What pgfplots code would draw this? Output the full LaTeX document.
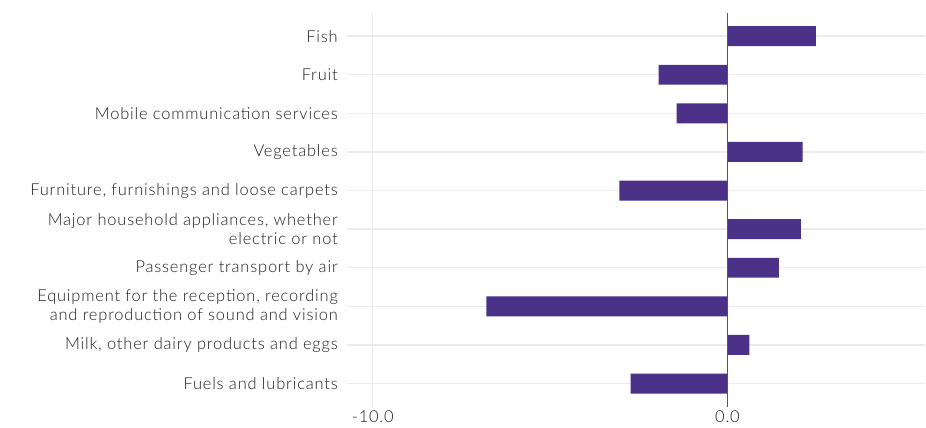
\documentclass[border=0pt]{standalone}
\usepackage{fontspec}
\setmainfont{Lato}[UprightFont={* Light}, LetterSpace=5]
\usepackage{pgfplots}
\pgfplotsset{compat=1.18}
\definecolor{barc}{RGB}{75,49,135}
\definecolor{gridc}{RGB}{235,235,235}
\definecolor{txt}{RGB}{30,30,30}
\begin{document}
\begin{tikzpicture}
\begin{axis}[
  scale only axis,
  width=578.5bp, height=394bp,
  xmin=-10.72, xmax=5.58,
  ymin=-0.6, ymax=9.6,
  xbar, bar width=20bp, bar shift=0pt,
  axis line style={draw=none},
  major tick length=0pt,
  xtick={-10,0}, xticklabels={-10.0,0.0},
  ytick={0,...,9},
  yticklabels={Fuels and lubricants,{Milk, other dairy products and eggs},{Equipment for the reception, recording\\and reproduction of sound and vision},Passenger transport by air,{Major household appliances, whether\\electric or not},{Furniture, furnishings and loose carpets},Vegetables,Mobile communication services,Fruit,Fish},
  yticklabel style={align=right, font=\fontsize{16.5}{19}\selectfont, text=txt, xshift=-6bp},
  xticklabel style={font=\fontsize{16.5}{19}\selectfont, text=txt, yshift=-1bp},
  xmajorgrids, ymajorgrids,
  major grid style={draw=gridc, line width=1.3bp},
  clip=false,
]
\addplot[fill=barc, draw=none] coordinates {
(-2.73,0) (0.62,1) (-6.80,2) (1.45,3) (2.07,4) (-3.05,5) (2.12,6) (-1.43,7) (-1.94,8) (2.49,9)};
\draw[color={rgb,255:red,85;green,85;blue,85}, line width=1.6bp] (axis cs:0,-0.6) -- (axis cs:0,9.6);
\end{axis}
\path (current axis.south west) ++(-347.5bp,-21bp) coordinate (a);
\path (current axis.north east) ++(0,13bp) coordinate (b);
\path (a) rectangle (b);
\end{tikzpicture}
\end{document}
